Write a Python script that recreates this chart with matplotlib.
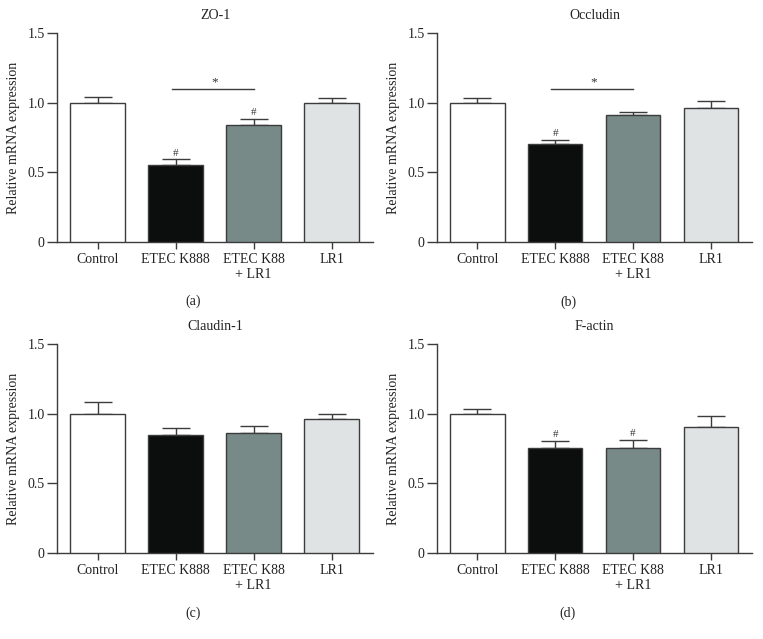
import matplotlib
matplotlib.use("Agg")
import matplotlib.pyplot as plt
import numpy as np

plt.rcParams['font.family'] = ['Liberation Serif', 'DejaVu Serif']

categories = ["Control", "ETEC K888", "ETEC K88\n+ LR1", "LR1"]
colors = ["#ffffff", "#0b0e0d", "#778a87", "#dfe3e3"]

titles = ["ZO-1", "Occludin", "Claudin-1", "F-actin"]
panel_labels = ["(a)", "(b)", "(c)", "(d)"]

zo1_mean = [1.00, 0.55, 0.84, 1.00]
zo1_err = [0.04, 0.043, 0.045, 0.03]
zo1_hash = [False, True, True, False]

occ_mean = [1.00, 0.70, 0.91, 0.96]
occ_err = [0.03, 0.035, 0.025, 0.05]
occ_hash = [False, True, False, False]

cld_mean = [1.00, 0.845, 0.86, 0.96]
cld_err = [0.082, 0.05, 0.055, 0.038]
cld_hash = [False, False, False, False]

fac_mean = [1.00, 0.752, 0.752, 0.905]
fac_err = [0.03, 0.055, 0.058, 0.075]
fac_hash = [False, True, True, False]

sig_star = [True, True, False, False]
sig_height = 1.098

means = [zo1_mean, occ_mean, cld_mean, fac_mean]
errs = [zo1_err, occ_err, cld_err, fac_err]
hashes = [zo1_hash, occ_hash, cld_hash, fac_hash]

fig = plt.figure(figsize=(7.63, 6.39), dpi=100)
W, H = 763, 639
# pixel boxes: (left, right, top, bottom)
boxes = [(57, 373, 33, 242), (437, 752, 33, 242),
         (57, 373, 344, 553), (437, 752, 344, 553)]
label_pos = [(193, 301), (568, 302), (193, 613), (568, 613)]

axcol = "#3c3c3c"
x = np.arange(4)
for i in range(4):
    l, r, t, b = boxes[i]
    ax = fig.add_axes([l / W, 1 - b / H, (r - l) / W, (b - t) / H])
    ax.bar(x, means[i], width=0.7, color=colors, edgecolor=axcol, linewidth=1.0, zorder=3)
    ax.errorbar(x, means[i], yerr=[np.zeros(4), errs[i]], fmt='none', ecolor=axcol,
                elinewidth=1.0, capsize=10, capthick=1.0, zorder=2)
    for j in range(4):
        if hashes[i][j]:
            ax.text(x[j], means[i][j] + errs[i][j] + 0.012, "#", ha='center', va='bottom',
                    fontsize=8, color="#333333")
    if sig_star[i]:
        ax.plot([x[1] - 0.05, x[2]], [sig_height, sig_height], color=axcol, lw=1.0)
        ax.text((x[1] + x[2]) / 2, sig_height + 0.005, "*", ha='center', va='bottom',
                fontsize=9.5, color="#333333")
    ax.set_xlim(-0.52, 3.53)
    ax.set_ylim(0, 1.5)
    ax.set_yticks([0, 0.5, 1.0, 1.5])
    ax.set_yticklabels(["0", "0.5", "1.0", "1.5"])
    ax.set_xticks(x)
    ax.set_xticklabels(categories)
    ax.tick_params(axis='both', colors=axcol, labelcolor="#222222", labelsize=10)
    ax.tick_params(axis='y', length=7, width=1.0, pad=2)
    ax.tick_params(axis='x', length=5, width=1.0, pad=3)
    for s in ['top', 'right']:
        ax.spines[s].set_visible(False)
    for s in ['left', 'bottom']:
        ax.spines[s].set_color(axcol)
        ax.spines[s].set_linewidth(1.0)
    ax.set_ylabel("Relative mRNA expression", fontsize=10, color="#222222", labelpad=5)
    ax.set_title(titles[i], fontsize=10, color="#222222", pad=10)
    fx, fy = label_pos[i]
    fig.text(fx / W, 1 - fy / H, panel_labels[i], ha='center', va='center', fontsize=10,
             color="#222222")

fig.savefig("out.png", dpi=100)
